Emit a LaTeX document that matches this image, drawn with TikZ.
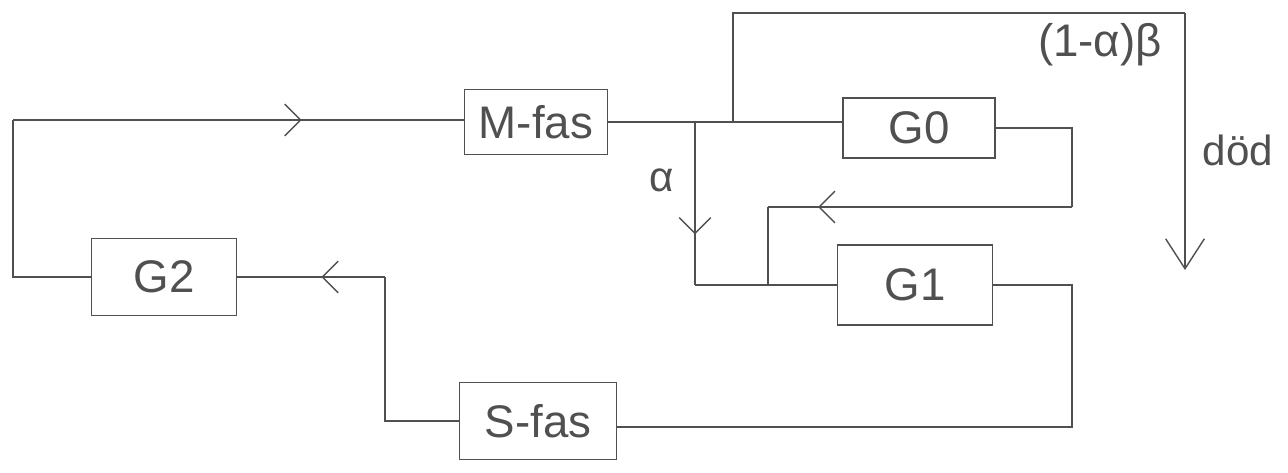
\documentclass[tikz,border=0pt]{standalone}
\usepackage{fontspec}
\setmainfont{Liberation Sans}
\usetikzlibrary{arrows.meta,decorations.markings}
\definecolor{ink}{HTML}{505050}
\tikzset{
  box/.style={draw=ink, line width=0.8pt, text=ink, font=\fontsize{26}{30}\selectfont, inner sep=0pt},
  lbl/.style={text=ink, font=\fontsize{24}{28}\selectfont, inner sep=0pt},
  wire/.style={draw=ink, line width=0.8pt},
  chev/.style={postaction={decorate}, decoration={markings, mark=at position #1 with {\arrow[ink, line width=0.8pt]{Straight Barb[length=9pt,width=18pt]}}}},
}
\begin{document}
\begin{tikzpicture}[x=0.02cm, y=-0.02cm]
\useasboundingbox (0,0) rectangle (1288,473);
% boxes
\node[box, minimum width=2.86cm, minimum height=1.3cm] (mfas) at (536,122) {M-fas};
\node[box, minimum width=3.04cm, minimum height=1.2cm] (g0) at (919,128) {G0};
\node[box, minimum width=3.1cm, minimum height=1.6cm] (g1) at (915,285) {G1};
\node[box, minimum width=2.9cm, minimum height=1.54cm] (g2) at (164,277) {G2};
\node[box, minimum width=3.14cm, minimum height=1.54cm] (sfas) at (538,421) {S-fas};
% labels
\node[lbl] (alpha) at (662,180) {α};
\node[lbl, font=\fontsize{26}{30}\selectfont] (dead1) at (1100,45) {(1-α)β};
\node[lbl] (dod) at (1238,150) {död};
% coordinates
\coordinate (lt) at (13,120);
\coordinate (lb) at (13,277);
\coordinate (ba) at (695,122);
\coordinate (bad) at (695,285);
\coordinate (bt) at (733,122);
\coordinate (tt) at (733,13);
\coordinate (tr) at (1185,13);
\coordinate (de) at (1185,270);
\coordinate (r0a) at (1072,128);
\coordinate (r0b) at (1072,207);
\coordinate (r0c) at (768,207);
\coordinate (r0d) at (768,285);
\coordinate (r1a) at (1072,285);
\coordinate (r1b) at (1072,427);
\coordinate (sl) at (385,421);
\coordinate (su) at (385,277);
% connectors
\draw[wire] (g2.west) -- (lb) -- (lt);
\draw[wire, chev=0.64] (lt) -- (lt -| mfas.west);
\draw[wire] (mfas.east |- ba) -- (ba -| g0.west);
\draw[wire, chev=0.69] (ba) -- (bad);
\draw[wire] (bad) -- (g1.west);
\draw[wire] (bt) -- (tt) -- (tr);
\draw[wire, -{Straight Barb[length=17pt,width=22pt]}] (tr) -- (de);
\draw[wire] (g0.east) -- (r0a) -- (r0b);
\draw[wire, chev=0.835] (r0b) -- (r0c);
\draw[wire] (r0c) -- (r0d);
\draw[wire] (g1.east) -- (r1a) -- (r1b) -- (r1b -| sfas.east);
\draw[wire] (sfas.west) -- (sl) -- (su);
\draw[wire, chev=0.43] (su) -- (g2.east);
\end{tikzpicture}
\end{document}
